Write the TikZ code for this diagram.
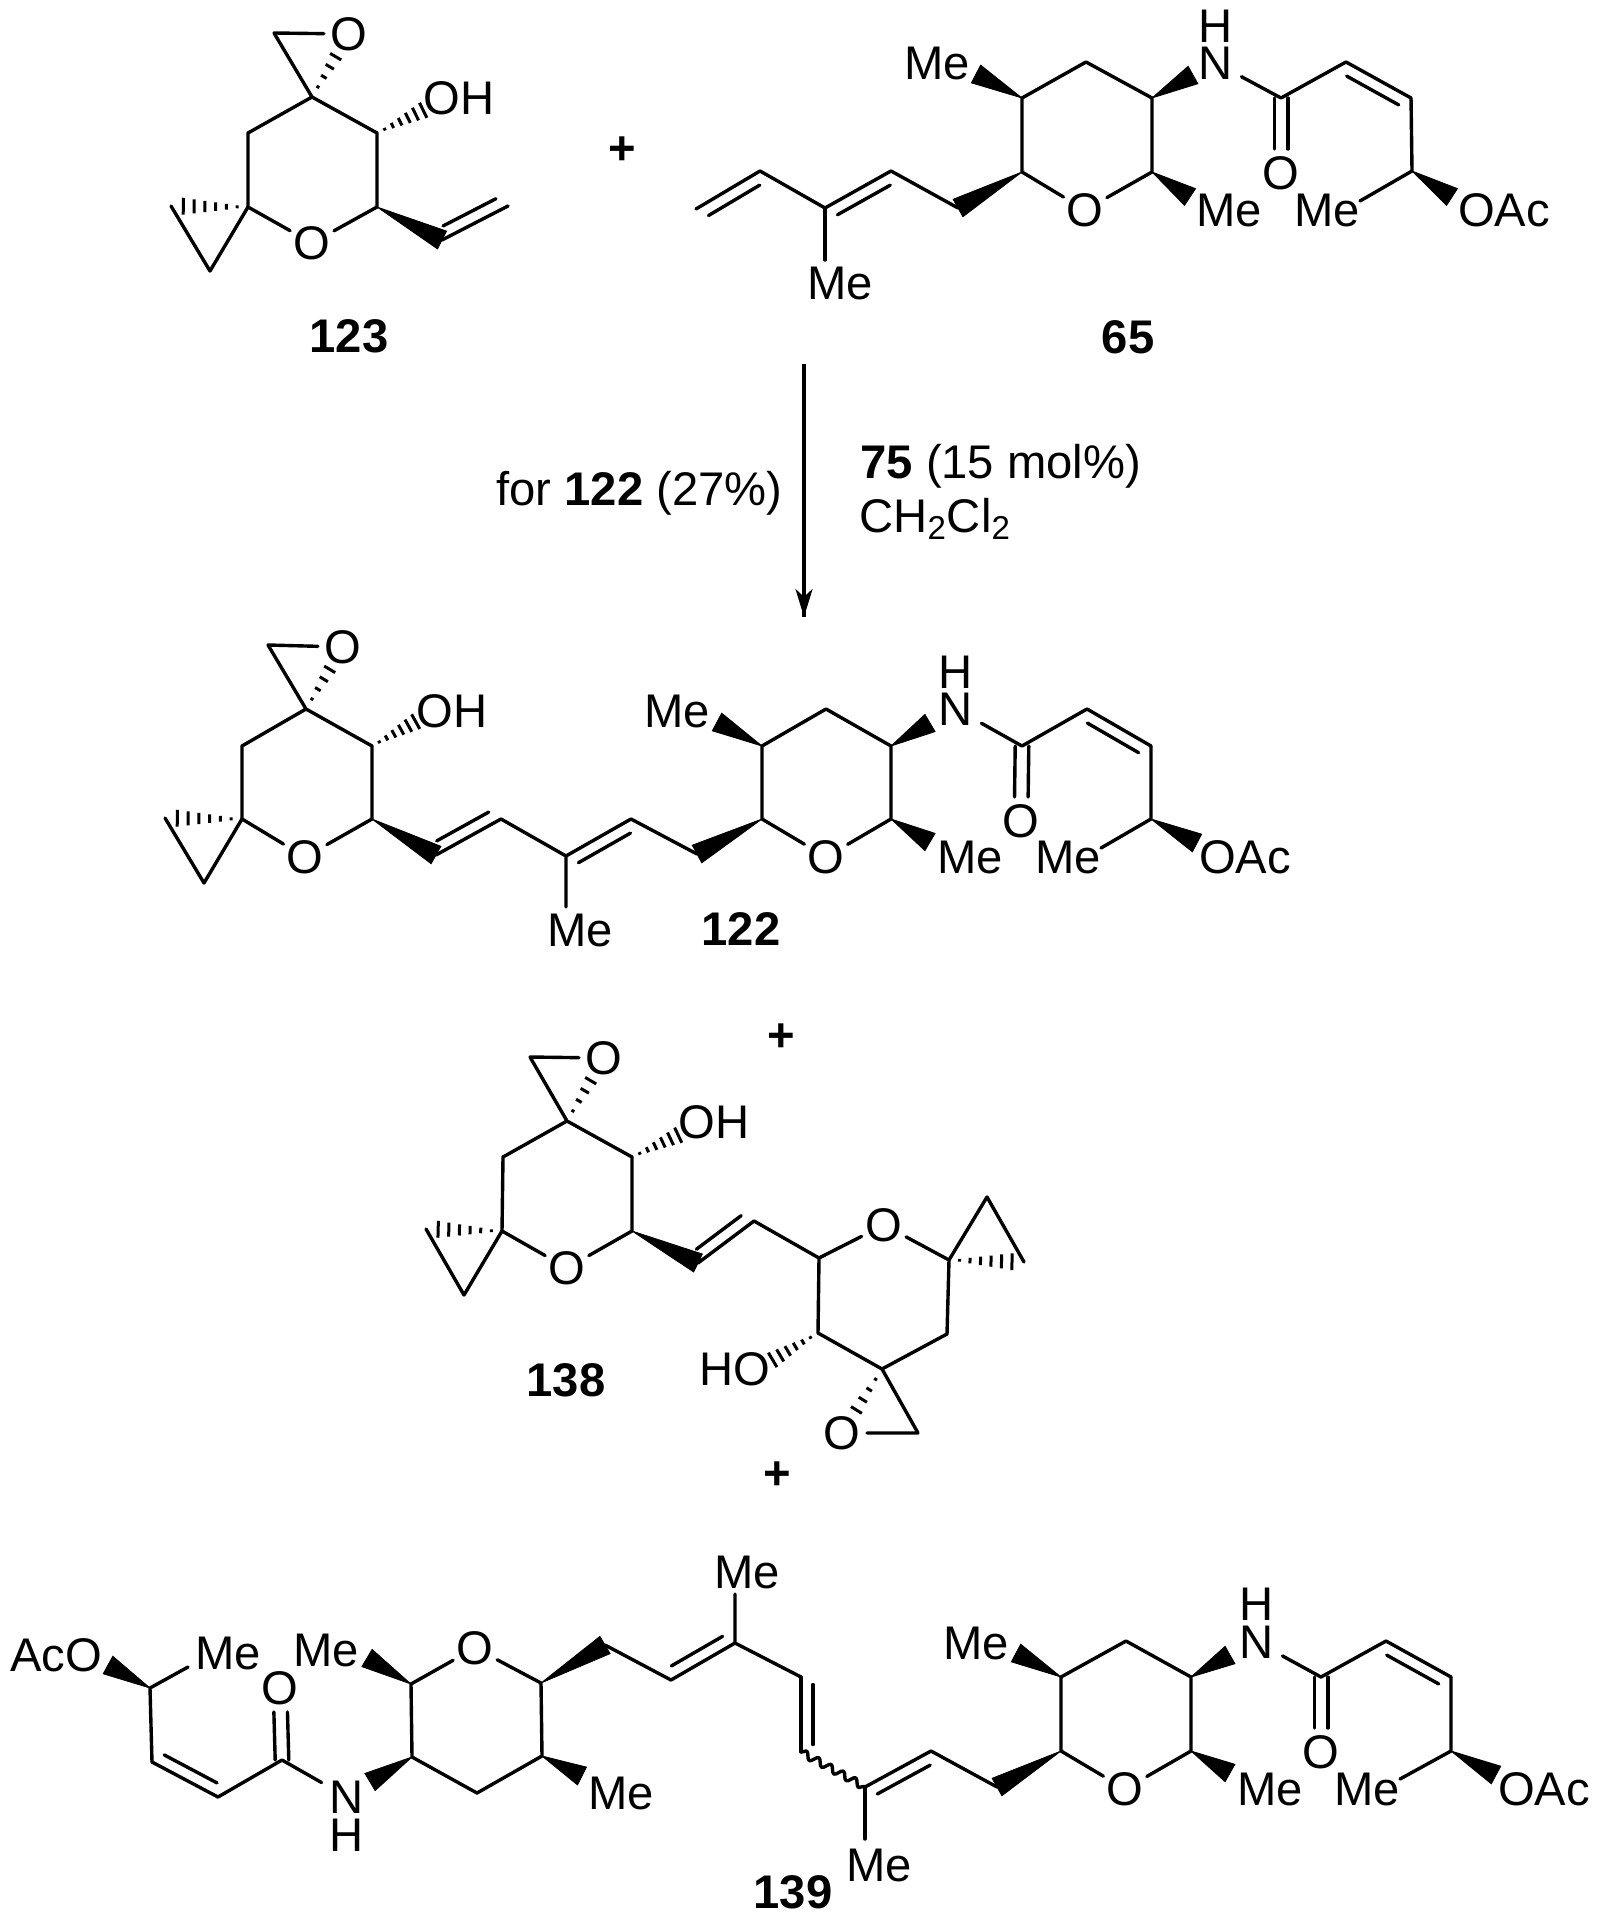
\documentclass[tikz,border=0pt]{standalone}
\usepackage{fontspec}
\setmainfont{Liberation Sans}
\usetikzlibrary{calc,arrows.meta,decorations.markings,decorations.pathmorphing}
\tikzstyle {atom} = [circle, inner sep=0pt, minimum size=23pt]
\tikzstyle {atom n} = [rectangle, inner xsep=4pt, inner ysep=0pt]
\tikzstyle {tag} = [inner sep=0pt]
\tikzstyle {bond} = [line width=1.7pt, line join=round, line cap=round]
\tikzset{wedge bond/.style = {fill=black, to path={-- ($(\tikztotarget)!5pt!90:(\tikztostart)$) %
            -- ($(\tikztotarget)!5pt!-90:(\tikztostart)$) -- cycle}}}
\tikzset{wavy bond/.style = {bond, decorate, decoration={snake, amplitude=1.8pt, segment length=7pt}}}
\tikzset{edge/.style = {line width=1.8pt, decoration={markings,mark=at position 1 with %
            {\arrow{Stealth[length=14pt,width=8.5pt,inset=4pt]}}},postaction={decorate}}}
\newcommand{\hashbond}[3][0.14,0.28,...,0.84]{\foreach \hashpos in {#1}
    {\draw[line width=1.5pt] ($(#2)!\hashpos!(#3)!\hashpos*5pt!90:(#3)$) -- ($(#2)!\hashpos!(#3)!\hashpos*5pt!-90:(#3)$);}}
\newcommand{\dblbond}[3]{\draw[bond] (#1) -- (#2);
    \draw[bond] ($(#1)!0.1!(#2)!6pt!#3:(#2)$) -- ($(#2)!0.1!(#1)!6pt!-#3:(#1)$);}
\newcommand{\cobond}[2]{\draw[bond, shorten >=12pt] ([xshift=-3.4pt]#1) -- ([xshift=-3.4pt]#2.center);
    \draw[bond, shorten >=12pt] ([xshift=3.4pt]#1) -- ([xshift=3.4pt]#2.center);}
\begin{document}
\begin{tikzpicture}[x=0.5pt, y=-0.5pt, every node/.style={font=\fontsize{23.6}{27}\selectfont}]
            \useasboundingbox (0,0) rectangle (1599,1920);
            % 123
            \coordinate (a1) at (312, 97);
            \coordinate (a2) at (274, 33);
            \node[atom] (a3) at (349, 34) {O};
            \coordinate (a4) at (377, 133);
            \coordinate (a5) at (377, 207);
            \node[atom] (a6) at (312, 243) {O};
            \coordinate (a7) at (248, 207);
            \coordinate (a8) at (248, 133);
            \coordinate (a9) at (171, 206);
            \coordinate (a10) at (210, 271);
            \coordinate (a11) at (432, 106);
            \coordinate (a12) at (442, 240);
            \coordinate (a13) at (508, 206);
            \node[tag] (a14) at (459, 98) {OH};
            \node[tag] (a15) at (349, 336) {\textbf{123}};
            \node[tag] (plus1) at (622, 151) {\textbf{+}};
            \draw[bond] (a3) -- (a2) -- (a1) -- (a4) -- (a5) -- (a6) -- (a7) -- (a8) -- (a1);
            \draw[bond] (a7) -- (a10) -- (a9);
            \hashbond[0.16,0.32,0.48,0.64]{a1}{a3}
            \hashbond{a4}{a11}
            \hashbond{a7}{a9}
            \draw[wedge bond] (a5) to (a12);
            \dblbond{a12}{a13}{90}
            % 65
            \coordinate (b1) at (696, 209);
            \coordinate (b2) at (760, 171);
            \coordinate (b3) at (825, 208);
            \coordinate (b4) at (891, 171);
            \coordinate (b5) at (958, 208);
            \coordinate (b6) at (1022, 172);
            \coordinate (b7) at (1022, 98);
            \coordinate (b8) at (1086, 62);
            \coordinate (b9) at (1152, 98);
            \coordinate (b10) at (1152, 172);
            \node[atom] (b11) at (1085, 210) {O};
            \coordinate (b12) at (825, 260);
            \node[tag] (b13) at (840, 283) {Me};
            \coordinate (b14) at (976, 74);
            \node[tag] (b15) at (937, 63) {Me};
            \coordinate (b16) at (1193, 75);
            \node[atom n] (b17) at (1216, 63) {N};
            \node[tag] (b18) at (1216, 26) {H};
            \coordinate (b19) at (1281, 98);
            \coordinate (b20) at (1346, 62);
            \coordinate (b21) at (1411, 98);
            \node[atom] (b22) at (1281, 173) {O};
            \coordinate (b23) at (1412, 171);
            \coordinate (b24) at (1360, 201);
            \node[tag] (b25) at (1327, 210) {Me};
            \coordinate (b26) at (1452, 197);
            \node[tag] (b27) at (1504, 210) {OAc};
            \coordinate (b28) at (1190, 197);
            \node[tag] (b29) at (1229, 210) {Me};
            \node[tag] (b30) at (1128, 337) {\textbf{65}};
            \dblbond{b1}{b2}{-90}
            \draw[bond] (b2) -- (b3);
            \dblbond{b3}{b4}{-90}
            \draw[bond] (b4) -- (b5);
            \draw[bond] (b3) -- (b12);
            \draw[wedge bond] (b6) to (b5);
            \draw[bond] (b6) -- (b7) -- (b8) -- (b9) -- (b10) -- (b11) -- (b6);
            \draw[wedge bond] (b7) to (b14);
            \draw[wedge bond] (b9) to (b16);
            \draw[wedge bond] (b10) to (b28);
            \draw[bond] (b17) -- (b19) -- (b20);
            \cobond{b19}{b22}
            \dblbond{b20}{b21}{-90}
            \draw[bond] (b21) -- (b23) -- (b24);
            \draw[wedge bond] (b23) to (b26);
            % arrow
            \coordinate (r1) at (804, 364);
            \coordinate (r2) at (804, 617);
            \draw[edge] (r1) -- (r2);
            \node[tag, anchor=base west] (r3) at (496, 505) {for \textbf{122} (27\%)};
            \node[tag, anchor=base west] (r4) at (860, 478) {\textbf{75} (15 mol\%)};
            \node[tag, anchor=base west] (r5) at (859, 532) {CH\textsubscript{2}Cl\textsubscript{2}};
            % 122
            \coordinate (c1) at (306, 709);
            \coordinate (c2) at (268, 645);
            \node[atom] (c3) at (343, 647) {O};
            \coordinate (c4) at (372, 746);
            \coordinate (c5) at (372, 819);
            \node[atom] (c6) at (305, 857) {O};
            \coordinate (c7) at (242, 819);
            \coordinate (c8) at (242, 746);
            \coordinate (c9) at (165, 818);
            \coordinate (c10) at (204, 883);
            \coordinate (c11) at (424, 717);
            \node[tag] (c12) at (452, 711) {OH};
            \coordinate (c13) at (436, 855);
            \coordinate (c14) at (501, 819);
            \coordinate (c15) at (566, 856);
            \coordinate (c16) at (566, 907);
            \node[tag] (c17) at (580, 930) {Me};
            \coordinate (c18) at (631, 819);
            \coordinate (c19) at (697, 854);
            \coordinate (c20) at (762, 819);
            \coordinate (c21) at (762, 746);
            \coordinate (c22) at (826, 709);
            \coordinate (c23) at (891, 746);
            \coordinate (c24) at (891, 819);
            \node[atom] (c25) at (826, 857) {O};
            \coordinate (c26) at (717, 722);
            \node[tag] (c27) at (677, 711) {Me};
            \coordinate (c28) at (930, 723);
            \node[atom n] (c29) at (956, 709) {N};
            \node[tag] (c30) at (956, 672) {H};
            \coordinate (c31) at (1022, 746);
            \coordinate (c32) at (1087, 709);
            \coordinate (c33) at (1151, 746);
            \node[atom] (c34) at (1021, 821) {O};
            \coordinate (c35) at (1151, 819);
            \coordinate (c36) at (1101, 848);
            \node[tag] (c37) at (1068, 857) {Me};
            \coordinate (c38) at (1197, 843);
            \node[tag] (c39) at (1245, 857) {OAc};
            \coordinate (c40) at (930, 842);
            \node[tag] (c41) at (970, 857) {Me};
            \node[tag] (c42) at (741, 929) {\textbf{122}};
            \draw[bond] (c3) -- (c2) -- (c1) -- (c4) -- (c5) -- (c6) -- (c7) -- (c8) -- (c1);
            \draw[bond] (c7) -- (c10) -- (c9);
            \hashbond[0.16,0.32,0.48,0.64]{c1}{c3}
            \hashbond{c4}{c11}
            \hashbond{c7}{c9}
            \draw[wedge bond] (c5) to (c13);
            \dblbond{c13}{c14}{90}
            \draw[bond] (c14) -- (c15) -- (c16);
            \dblbond{c15}{c18}{-90}
            \draw[bond] (c18) -- (c19);
            \draw[wedge bond] (c20) to (c19);
            \draw[bond] (c20) -- (c21) -- (c22) -- (c23) -- (c24) -- (c25) -- (c20);
            \draw[wedge bond] (c21) to (c26);
            \draw[wedge bond] (c23) to (c28);
            \draw[wedge bond] (c24) to (c40);
            \draw[bond] (c29) -- (c31) -- (c32);
            \cobond{c31}{c34}
            \dblbond{c32}{c33}{-90}
            \draw[bond] (c33) -- (c35) -- (c36);
            \draw[wedge bond] (c35) to (c38);
            \node[tag] (plus2) at (781, 1038) {\textbf{+}};
            % 138
            \coordinate (d1) at (567, 1121);
            \coordinate (d2) at (530, 1057);
            \node[atom] (d3) at (604, 1058) {O};
            \coordinate (d4) at (632, 1157);
            \coordinate (d5) at (632, 1231);
            \node[atom] (d6) at (567, 1268) {O};
            \coordinate (d7) at (502, 1231);
            \coordinate (d8) at (503, 1157);
            \coordinate (d9) at (426, 1229);
            \coordinate (d10) at (464, 1295);
            \coordinate (d11) at (687, 1131);
            \node[tag] (d12) at (714, 1122) {OH};
            \coordinate (d13) at (698, 1263);
            \coordinate (d14) at (754, 1221);
            \coordinate (d15) at (819, 1258);
            \node[atom] (d16) at (884, 1225) {O};
            \coordinate (d17) at (949, 1260);
            \coordinate (d18) at (987, 1197);
            \coordinate (d19) at (1024, 1262);
            \coordinate (d20) at (947, 1334);
            \coordinate (d21) at (882, 1369);
            \coordinate (d22) at (818, 1333);
            \coordinate (d23) at (764, 1365);
            \node[tag] (d24) at (735, 1369) {HO};
            \node[atom] (d25) at (842, 1433) {O};
            \coordinate (d26) at (918, 1433);
            \node[tag] (d27) at (566, 1380) {\textbf{138}};
            \node[tag] (plus3) at (777, 1476) {\textbf{+}};
            \draw[bond] (d3) -- (d2) -- (d1) -- (d4) -- (d5) -- (d6) -- (d7) -- (d8) -- (d1);
            \draw[bond] (d7) -- (d10) -- (d9);
            \hashbond[0.16,0.32,0.48,0.64]{d1}{d3}
            \hashbond{d4}{d11}
            \hashbond{d7}{d9}
            \draw[wedge bond] (d5) to (d13);
            \dblbond{d13}{d14}{90}
            \draw[bond] (d14) -- (d15) -- (d16) -- (d17) -- (d20) -- (d21) -- (d22) -- (d15);
            \draw[bond] (d17) -- (d18) -- (d19);
            \hashbond{d17}{d19}
            \hashbond{d22}{d23}
            \draw[bond] (d21) -- (d26) -- (d25);
            \hashbond[0.16,0.32,0.48,0.64]{d21}{d25}
            % 139
            \node[tag] (e1) at (56, 1655) {AcO};
            \coordinate (e2) at (108, 1665);
            \coordinate (e3) at (150, 1688);
            \coordinate (e4) at (188, 1667);
            \node[tag] (e5) at (228, 1653) {Me};
            \coordinate (e6) at (152, 1762);
            \coordinate (e7) at (218, 1797);
            \coordinate (e8) at (282, 1760);
            \node[atom] (e9) at (280, 1688) {O};
            \node[atom n] (e10) at (347, 1797) {N};
            \node[tag] (e11) at (347, 1835) {H};
            \coordinate (e12) at (370, 1782);
            \coordinate (e13) at (412, 1757);
            \coordinate (e14) at (477, 1793);
            \coordinate (e15) at (542, 1756);
            \coordinate (e16) at (582, 1776);
            \node[tag] (e17) at (621, 1793) {Me};
            \coordinate (e18) at (541, 1683);
            \node[atom] (e19) at (475, 1648) {O};
            \coordinate (e20) at (411, 1684);
            \coordinate (e21) at (367, 1658);
            \node[tag] (e22) at (326, 1650) {Me};
            \coordinate (e23) at (605, 1645);
            \coordinate (e24) at (671, 1680);
            \coordinate (e25) at (735, 1643);
            \coordinate (e26) at (735, 1594);
            \node[tag] (e27) at (747, 1572) {Me};
            \coordinate (e28) at (801, 1677);
            \coordinate (e29) at (801, 1752);
            \coordinate (e30) at (865, 1787);
            \coordinate (e31) at (865, 1839);
            \node[tag] (e32) at (879, 1865) {Me};
            \coordinate (e33) at (931, 1751);
            \coordinate (e34) at (997, 1787);
            \coordinate (e35) at (1061, 1751);
            \coordinate (e36) at (1061, 1677);
            \coordinate (e37) at (1126, 1641);
            \coordinate (e38) at (1191, 1677);
            \coordinate (e39) at (1191, 1751);
            \node[atom] (e40) at (1125, 1789) {O};
            \coordinate (e41) at (1016, 1653);
            \node[tag] (e42) at (976, 1643) {Me};
            \coordinate (e43) at (1230, 1655);
            \node[atom n] (e44) at (1257, 1642) {N};
            \node[tag] (e45) at (1257, 1604) {H};
            \coordinate (e46) at (1321, 1677);
            \coordinate (e47) at (1386, 1641);
            \coordinate (e48) at (1451, 1677);
            \node[atom] (e49) at (1321, 1752) {O};
            \coordinate (e50) at (1451, 1751);
            \coordinate (e51) at (1400, 1779);
            \node[tag] (e52) at (1367, 1789) {Me};
            \coordinate (e53) at (1496, 1775);
            \node[tag] (e54) at (1544, 1789) {OAc};
            \coordinate (e55) at (1230, 1773);
            \node[tag] (e56) at (1270, 1789) {Me};
            \node[tag] (e57) at (793, 1892) {\textbf{139}};
            \draw[wedge bond] (e3) to (e2);
            \draw[bond] (e4) -- (e3) -- (e6);
            \dblbond{e6}{e7}{90}
            \draw[bond] (e7) -- (e8) -- (e10);
            \cobond{e8}{e9}
            \draw[wedge bond] (e13) to (e12);
            \draw[bond] (e13) -- (e14) -- (e15) -- (e18) -- (e19) -- (e20) -- (e13);
            \draw[wedge bond] (e15) to (e16);
            \draw[wedge bond] (e20) to (e21);
            \draw[wedge bond] (e18) to (e23);
            \draw[bond] (e23) -- (e24);
            \dblbond{e24}{e25}{90}
            \draw[bond] (e26) -- (e25) -- (e28);
            \dblbond{e28}{e29}{90}
            \draw[wavy bond] (e29) -- (e30);
            \draw[bond] (e30) -- (e31);
            \dblbond{e30}{e33}{-90}
            \draw[bond] (e33) -- (e34);
            \draw[wedge bond] (e35) to (e34);
            \draw[bond] (e35) -- (e36) -- (e37) -- (e38) -- (e39) -- (e40) -- (e35);
            \draw[wedge bond] (e36) to (e41);
            \draw[wedge bond] (e38) to (e43);
            \draw[wedge bond] (e39) to (e55);
            \draw[bond] (e44) -- (e46) -- (e47);
            \cobond{e46}{e49}
            \dblbond{e47}{e48}{-90}
            \draw[bond] (e48) -- (e50) -- (e51);
            \draw[wedge bond] (e50) to (e53);
        \end{tikzpicture}
\end{document}
